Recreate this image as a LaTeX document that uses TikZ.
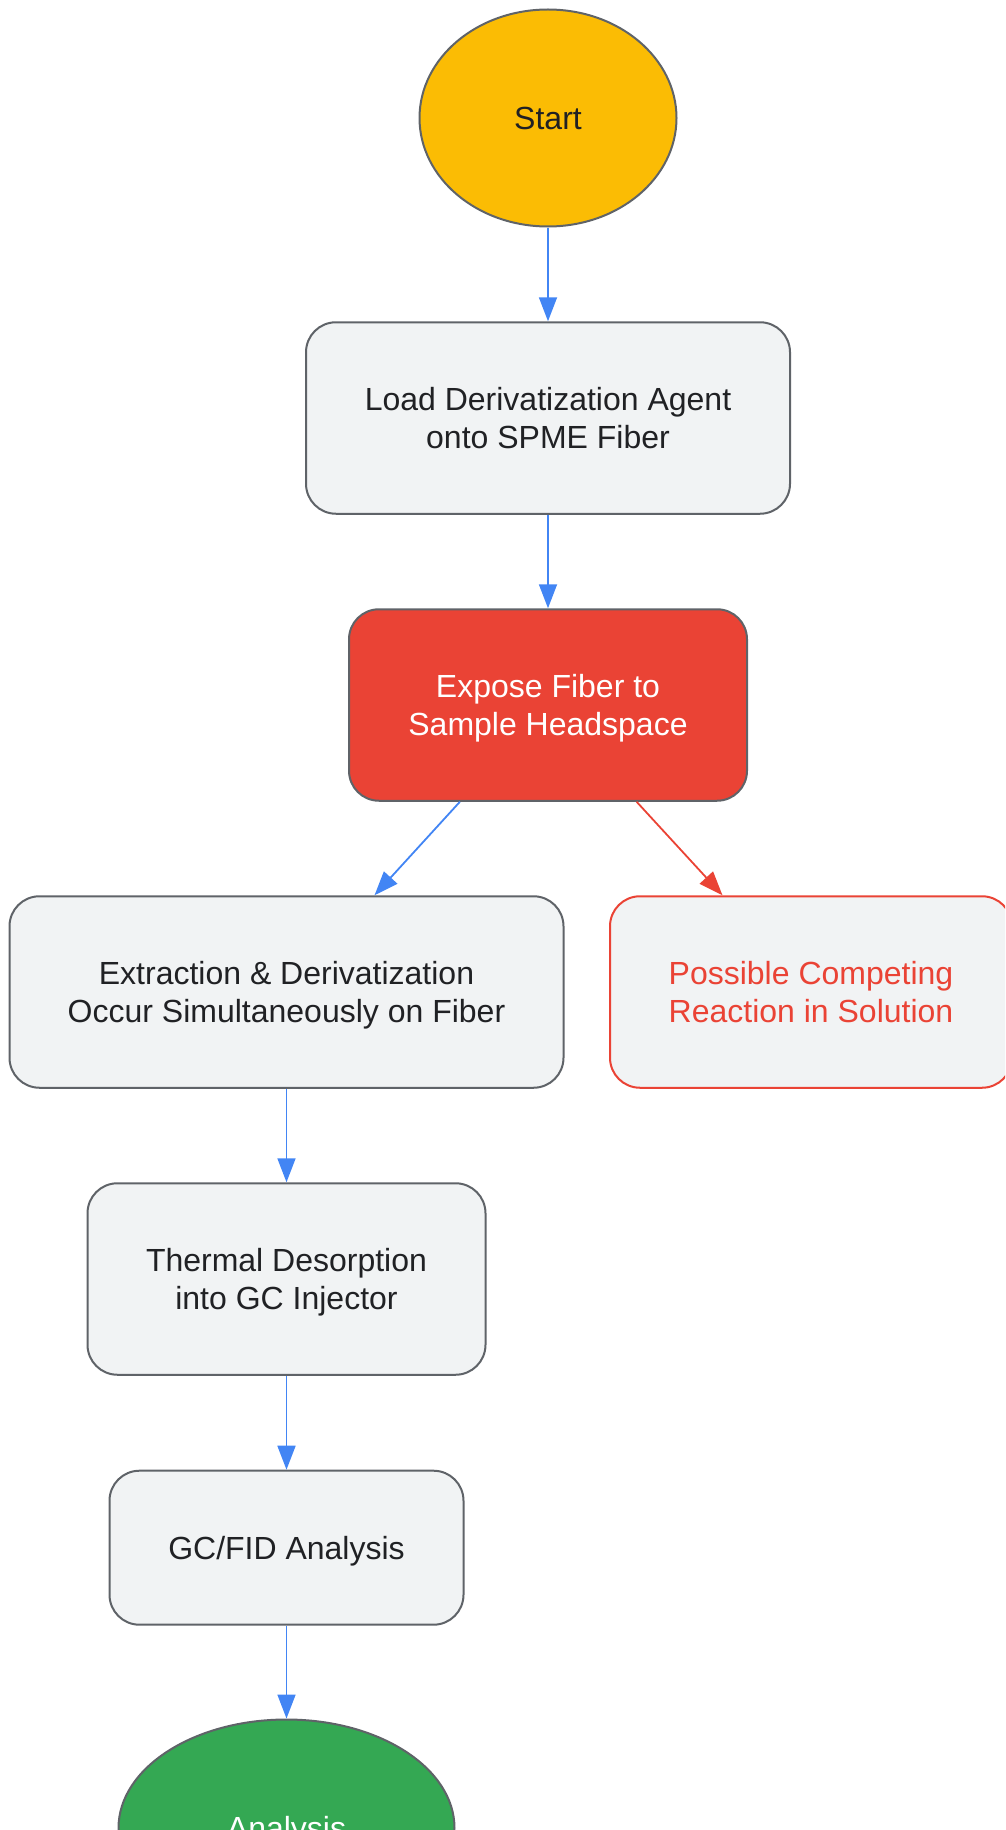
\documentclass[tikz,border=0pt]{standalone}
\usepackage{fontspec}
\setmainfont{Liberation Sans}
\usetikzlibrary{shapes.geometric,arrows.meta}
\definecolor{bordergray}{HTML}{5F6368}
\definecolor{boxfill}{HTML}{F1F3F4}
\definecolor{gyellow}{HTML}{FBBC04}
\definecolor{gred}{HTML}{EA4335}
\definecolor{ggreen}{HTML}{34A853}
\definecolor{gblue}{HTML}{4285F4}
\definecolor{txtdark}{HTML}{202124}
\newcommand{\capln}[1]{\raisebox{0pt}[0.716em][0pt]{#1}}
\begin{document}
\begin{tikzpicture}[x=1pt,y=-1pt,
  every node/.style={font=\fontsize{32}{38}\selectfont, align=center, inner sep=0pt},
  procbox/.style={draw=bordergray, line width=2pt, fill=boxfill, text=txtdark, rounded corners=30pt},
  termnode/.style={ellipse, draw=bordergray, line width=2pt},
  flow/.style={draw=gblue, line width=1.8pt, -{Triangle[length=24pt,width=18pt]}},
  redflow/.style={draw=gred, line width=1.8pt, -{Triangle[length=24pt,width=18pt]}}
]
\useasboundingbox (0,0) rectangle (1005,1830);
\begin{scope}
\clip (0,0) rectangle (1005,1830);
\node[termnode, fill=gyellow, text=txtdark, minimum width=257pt, minimum height=217pt] (start) at (548,118) {\capln{Start}};
\node[procbox, minimum width=484pt, minimum height=191.5pt] (load) at (548,418) {\capln{Load Derivatization Agent}\\\capln{onto SPME Fiber}};
\node[procbox, fill=gred, text=white, minimum width=398pt, minimum height=191.5pt] (expose) at (548,705) {\capln{Expose Fiber to}\\\capln{Sample Headspace}};
\node[procbox, minimum width=554pt, minimum height=191.5pt] (extract) at (286.5,992) {\capln{Extraction \& Derivatization}\\\capln{Occur Simultaneously on Fiber}};
\node[procbox, draw=gred, text=gred, minimum width=402pt, minimum height=191.5pt] (possible) at (811,992) {\capln{Possible Competing}\\\capln{Reaction in Solution}};
\node[procbox, minimum width=398pt, minimum height=191.5pt] (thermal) at (286.5,1279) {\capln{Thermal Desorption}\\\capln{into GC Injector}};
\node[procbox, minimum width=354pt, minimum height=154pt] (gc) at (286.5,1547.7) {\capln{GC/FID Analysis}};
\node[termnode, fill=ggreen, text=white, minimum width=336pt, minimum height=217pt] (analysis) at (286.5,1828) {\capln{Analysis}};

\draw[flow] (start) -- (load);
\draw[flow] (load) -- (expose);
\draw[flow] (expose) -- (extract);
\draw[redflow] (expose) -- (possible);
\draw[flow] (extract) -- (thermal);
\draw[flow] (thermal) -- (gc);
\draw[flow] (gc) -- (analysis);
\end{scope}
\end{tikzpicture}
\end{document}
